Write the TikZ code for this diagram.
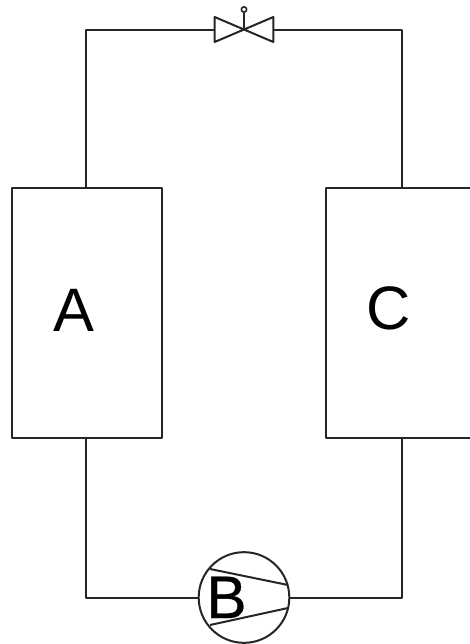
\documentclass[tikz,border=0pt]{standalone}
\usepackage{fontspec}
\setmainfont{Liberation Sans}
\newfontfamily\boldishB[FakeBold=0.6]{Liberation Sans}
\tikzset{
  wire/.style={line width=1.5pt,draw=black!85,line join=round},
  box/.style={wire,rectangle,inner sep=0pt,outer sep=0pt,fill=white},
  letter/.style={font=\fontsize{46}{46}\selectfont,inner sep=0pt,anchor=base,text=black},
}
\begin{document}
\begin{tikzpicture}[x=0.75pt,y=-0.75pt]
\useasboundingbox (0,0) rectangle (470,644);
\clip (0,0) rectangle (470,644);
% blocks
\node[box,minimum width=112.5pt,minimum height=187.5pt] (A) at (87,313) {};
\node[box,minimum width=112.5pt,minimum height=187.5pt] (C) at (401,313) {};
% valve and pump
\node[inner sep=0pt,outer sep=0pt,minimum width=44pt,minimum height=18.75pt] (V) at (244,29.5) {};
\node[wire,circle,inner sep=0pt,outer sep=0pt,minimum size=68pt,fill=white] (P) at (244,597.5) {};
% corners
\coordinate (tl) at (86,29.5);
\coordinate (tr) at (402,29.5);
\coordinate (bl) at (86,597.5);
\coordinate (br) at (402,597.5);
\coordinate (At) at (86,188);
\coordinate (Ab) at (86,438);
\coordinate (Ct) at (402,188);
\coordinate (Cb) at (402,438);
% connectors
\draw[wire] (At) -- (tl) -- (V.west);
\draw[wire] (V.east) -- (tr) -- (Ct);
\draw[wire] (Ab) -- (bl) -- (P.west);
\draw[wire] (P.east) -- (br) -- (Cb);
% valve symbol
\draw[wire] (V.center) -- (V.north west) -- (V.south west) -- (V.north east) -- (V.south east) -- cycle;
\coordinate (stem) at (244,13);
\draw[wire] (V.center) -- (stem);
\node[wire,circle,inner sep=0pt,minimum size=4pt,line width=1.2pt] (S) at (244,9.5) {};
% pump symbol
\coordinate (p1) at (210,569);
\coordinate (p2) at (288,585);
\coordinate (p3) at (210,625);
\coordinate (p4) at (288,608);
\draw[wire] (p1) -- (p2);
\draw[wire] (p3) -- (p4);
% letters
\node[letter] (la) at (74,331) {A};
\node[letter,font=\fontsize{45}{45}\boldishB] (lb) at (226.5,618) {B};
\node[letter] (lc) at (389,329) {C};
\end{tikzpicture}
\end{document}
